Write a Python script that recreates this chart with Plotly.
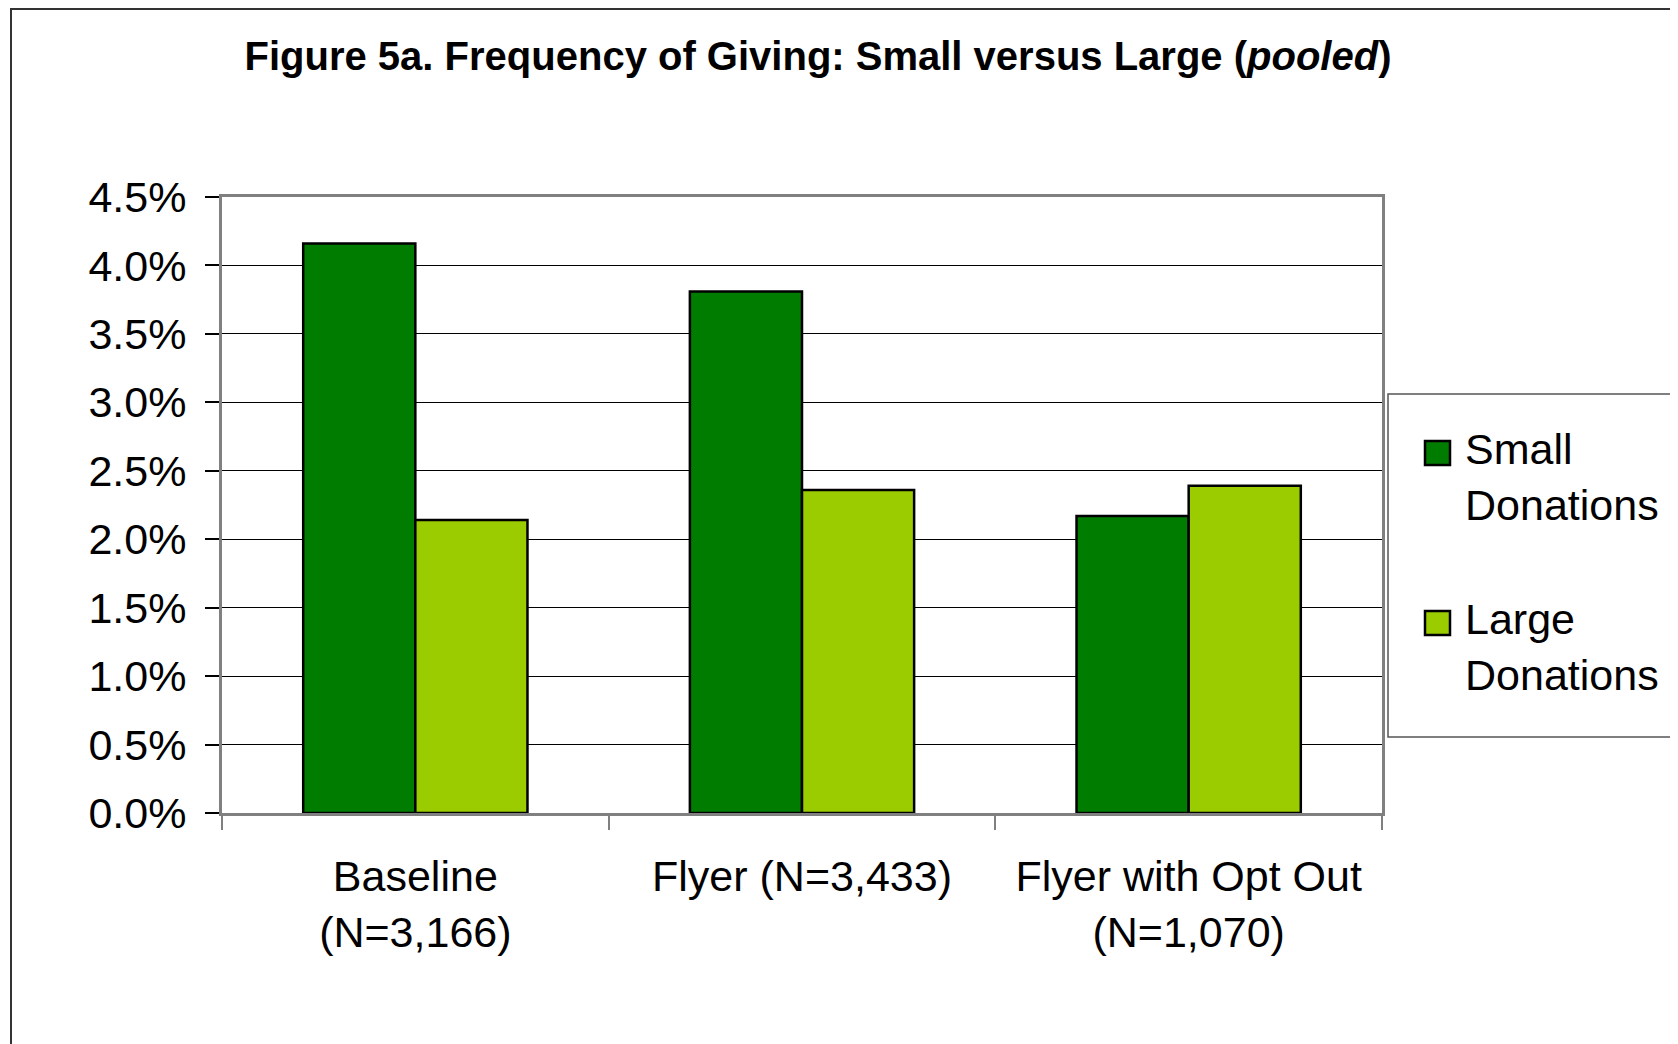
import plotly.graph_objects as go

categories = ["Baseline<br>(N=3,166)", "Flyer (N=3,433)", "Flyer with Opt Out<br>(N=1,070)"]
small_donations = [0.0416, 0.0381, 0.0217]
large_donations = [0.0214, 0.0236, 0.0239]
series_names = ["Small<br>Donations", "Large<br>Donations"]

COLOR_SMALL = "#007C00"
COLOR_LARGE = "#9ACC00"
FONT = "Liberation Sans, Arial, sans-serif"

W, H = 1678, 1044
OFF = 8  # page body margin; targets below are measured on the page
L, R, T, B = 214, 304, 189, 239
pw, ph = W - L - R, H - T - B


def px_x(px):
    return (px - OFF - L) / pw


def px_y(py):
    return (H - B - (py - OFF)) / ph


fig = go.Figure()

for name, vals, col in [(series_names[0], small_donations, COLOR_SMALL),
                        (series_names[1], large_donations, COLOR_LARGE)]:
    fig.add_trace(go.Bar(
        x=categories, y=vals, name=name,
        marker=dict(color=col, line=dict(color="black", width=2.5)),
        showlegend=False,
    ))

# hand-built legend (bigger swatches than plotly's legend allows)
shapes = [
    # outer chart frame
    dict(type="rect", xref="paper", yref="paper",
         x0=px_x(11), x1=px_x(1720), y0=px_y(1080), y1=px_y(OFF + 1),
         line=dict(color="#333333", width=2), fillcolor="rgba(0,0,0,0)", layer="below"),
    # legend box
    dict(type="rect", xref="paper", yref="paper",
         x0=px_x(1388), x1=px_x(1720), y0=px_y(737), y1=px_y(394),
         line=dict(color="#555555", width=1.5), fillcolor="rgba(0,0,0,0)"),
]
annotations = []
for name, col, cy, ty in [(series_names[0], COLOR_SMALL, 453, 477),
                          (series_names[1], COLOR_LARGE, 623, 647)]:
    shapes.append(dict(
        type="rect", xref="paper", yref="paper",
        x0=px_x(1425), x1=px_x(1450), y0=px_y(cy + 12), y1=px_y(cy - 12),
        fillcolor=col, line=dict(color="black", width=2.5),
    ))
    annotations.append(dict(
        text=name, xref="paper", yref="paper", x=px_x(1463), y=px_y(ty),
        xanchor="left", yanchor="middle", align="left", showarrow=False,
        font=dict(family=FONT, size=43, color="black"),
    ))

fig.update_layout(
    width=W, height=H,
    margin=dict(l=L, r=R, t=T, b=B),
    paper_bgcolor="white", plot_bgcolor="white",
    barmode="group", bargap=0.42, bargroupgap=0,
    font=dict(family=FONT, size=43, color="black"),
    title=dict(
        text="<b>Figure 5a. Frequency of Giving: Small versus Large (<i>pooled</i>)</b>",
        x=(818 - OFF) / W, xanchor="center", y=1 - (56 - OFF) / H, yanchor="middle", yref="container",
        font=dict(family=FONT, size=40, color="black"),
    ),
    showlegend=False,
    shapes=shapes,
    annotations=annotations,
)

fig.update_xaxes(
    type="category", showline=True, linecolor="#808080", linewidth=3, mirror=True,
    ticks="outside", tickson="boundaries", ticklen=14, tickcolor="#808080", tickwidth=1.5,
    showgrid=False, ticklabelstandoff=23,
)
fig.update_yaxes(
    range=[0, 0.045], dtick=0.005, tickformat=".1%",
    showline=True, linecolor="#808080", linewidth=3, mirror=True,
    ticks="outside", ticklen=14, tickcolor="black", tickwidth=1.5,
    showgrid=True, gridcolor="black", gridwidth=1, zeroline=False,
    ticklabelstandoff=10,
)

fig.write_html("out.html")
